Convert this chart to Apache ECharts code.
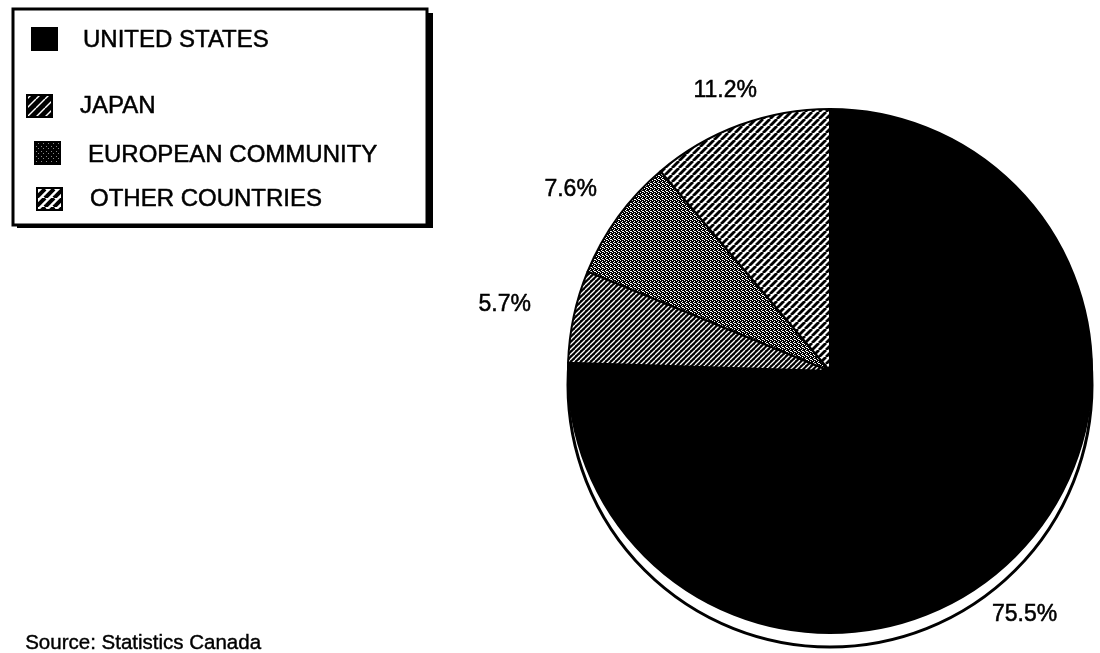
<!DOCTYPE html>
<html>
<head>
<meta charset="utf-8">
<script src="https://cdn.jsdelivr.net/npm/echarts@6/dist/echarts.min.js"></script>
<style>
html,body{margin:0;padding:0;background:#fff;}
#chart{width:1100px;height:653px;}
</style>
</head>
<body>
<div id="chart"></div>
<script>
// ---- data ----
const categories = ['UNITED STATES', 'JAPAN', 'EUROPEAN COMMUNITY', 'OTHER COUNTRIES'];
const shares = [75.5, 5.7, 7.6, 11.2];
const sourceNote = 'Source: Statistics Canada';

// ---- layout / style (not data) ----
const FONT = '"Liberation Sans", Arial, Helvetica, sans-serif';
const pieCenter = [830, 371];
const pieRadius = 262;
const shadowOffset = 14;
const legendIcons = [[32, 28], [27, 95], [35, 142], [37, 188]];
const legendTextPos = [[83, 40], [80, 106], [88, 155], [90, 199]];
const labelNudge = [[-19, 23], [-25, -2], [-11, -1], [1, 8]];

function makeTile(s, draw) {
  const c = document.createElement('canvas');
  c.width = s; c.height = s;
  const ctx = c.getContext('2d');
  draw(ctx, s);
  return c;
}
function hatch(s, bg, fg, lw) {
  return makeTile(s, function (ctx, s) {
    ctx.fillStyle = bg; ctx.fillRect(0, 0, s, s);
    ctx.strokeStyle = fg; ctx.lineWidth = lw;
    for (let k = -1; k <= 1; k++) {
      ctx.beginPath();
      ctx.moveTo(k * s, s);
      ctx.lineTo(k * s + s, 0);
      ctx.stroke();
    }
  });
}
function stipple() {
  return makeTile(4, function (ctx) {
    ctx.fillStyle = '#000'; ctx.fillRect(0, 0, 4, 4);
    ctx.fillStyle = '#fff';
    [[0, 0], [2, 1], [1, 2], [3, 3], [2, 3]].forEach(function (p) { ctx.fillRect(p[0], p[1], 1, 1); });
  });
}
function pat(c) { return { image: c, repeat: 'repeat' }; }

const sliceFills = [
  '#000000',
  pat(hatch(5, '#000', '#fff', 1.3)),
  pat(stipple()),
  pat(hatch(7, '#fff', '#000', 2.8))
];
const iconFills = [
  '#000000',
  pat(hatch(9, '#000', '#fff', 1.4)),
  pat(makeTile(5, function (ctx) {
    ctx.fillStyle = '#000'; ctx.fillRect(0, 0, 5, 5);
    ctx.fillStyle = '#888'; ctx.fillRect(1, 1, 1, 1); ctx.fillRect(3, 3, 1, 1);
  })),
  pat(hatch(9, '#fff', '#000', 4))
];

const chart = echarts.init(document.getElementById('chart'), null, { renderer: 'canvas' });

const graphics = [
  { type: 'rect', shape: { x: 17, y: 13, width: 416, height: 215 }, style: { fill: '#000' }, z: 1 },
  { type: 'rect', shape: { x: 13, y: 9, width: 414, height: 216 }, style: { fill: '#fff', stroke: '#000', lineWidth: 3 }, z: 2 },
  { type: 'text', left: 25, top: 633, style: { text: sourceNote, font: '20.5px ' + FONT, fill: '#000', stroke: '#000', lineWidth: 0.4 }, z: 3 }
];
categories.forEach(function (name, i) {
  graphics.push({
    type: 'rect',
    shape: { x: legendIcons[i][0], y: legendIcons[i][1], width: 25, height: 22 },
    style: { fill: iconFills[i], stroke: '#000', lineWidth: 2 },
    z: 3
  });
  graphics.push({
    type: 'text',
    x: legendTextPos[i][0], y: legendTextPos[i][1],
    style: { text: name, font: '24px ' + FONT, fill: '#000', stroke: '#000', lineWidth: 0.5, verticalAlign: 'middle', align: 'left' },
    z: 3
  });
});

chart.setOption({
  animation: false,
  backgroundColor: '#ffffff',
  graphic: graphics,
  series: [
    {
      type: 'pie',
      silent: true,
      center: [pieCenter[0], pieCenter[1] + shadowOffset],
      radius: pieRadius,
      label: { show: false },
      labelLine: { show: false },
      itemStyle: { color: '#fff', borderColor: '#000', borderWidth: 3 },
      data: [{ value: 1, name: '_shadow' }],
      z: 1
    },
    {
      type: 'pie',
      center: pieCenter,
      radius: pieRadius,
      startAngle: 90,
      clockwise: true,
      avoidLabelOverlap: false,
      itemStyle: { borderColor: '#000', borderWidth: 2 },
      label: {
        show: true,
        position: 'outside',
        formatter: '{c}%',
        fontFamily: FONT,
        fontSize: 23,
        color: '#000',
        textBorderColor: '#000',
        textBorderWidth: 0.5,
        distanceToLabelLine: 0
      },
      labelLine: { show: false, length: 45, length2: 0 },
      labelLayout: function (p) {
        const n = labelNudge[p.dataIndex] || [0, 0];
        return { align: 'center', verticalAlign: 'middle', dx: n[0], dy: n[1] };
      },
      data: categories.map(function (name, i) {
        return { name: name, value: shares[i], itemStyle: { color: sliceFills[i] } };
      }),
      z: 2
    }
  ]
});
</script>
</body>
</html>
